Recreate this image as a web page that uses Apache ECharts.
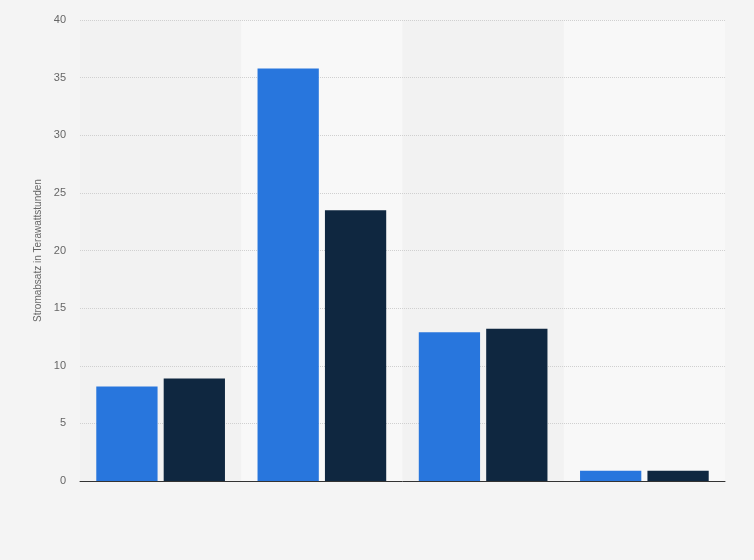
<!DOCTYPE html>
<html>
<head>
<meta charset="utf-8">
<script src="https://cdn.jsdelivr.net/npm/echarts@6/dist/echarts.min.js"></script>
<style>
html,body{margin:0;padding:0;background:#f4f4f4;}
#c{width:754px;height:560px;}
</style>
</head>
<body>
<div id="c"></div>
<script>
var categories = ['A', 'B', 'C', 'D'];
var series1 = [8.2, 35.8, 12.9, 0.9];
var series2 = [8.9, 23.5, 13.2, 0.9];
var yTicks = { min: 0, max: 40, interval: 5 };

var chart = echarts.init(document.getElementById('c'), null, { renderer: 'canvas' });
chart.setOption({
  backgroundColor: '#f4f4f4',
  animation: false,
  grid: { left: 80, right: 29, top: 20, bottom: 79 },
  xAxis: [{
    type: 'category',
    z: 0,
    data: categories,
    axisLine: { show: false },
    axisTick: { show: false },
    axisLabel: { show: false },
    splitArea: { show: true, areaStyle: { color: ['#f2f2f2', '#f8f8f8'] } }
  }, {
    type: 'category',
    z: 5,
    position: 'bottom',
    data: categories,
    axisLine: { lineStyle: { color: '#333', width: 1 } },
    axisTick: { show: false },
    axisLabel: { show: false },
    splitArea: { show: false },
    splitLine: { show: false }
  }],
  yAxis: {
    type: 'value',
    z: 1,
    min: yTicks.min, max: yTicks.max, interval: yTicks.interval,
    name: 'Stromabsatz in Terawattstunden',
    nameLocation: 'middle',
    nameGap: 34,
    nameTextStyle: { color: '#666', fontSize: 10, fontFamily: 'Arial, Liberation Sans, sans-serif' },
    axisLine: { show: false },
    axisTick: { show: false },
    axisLabel: { color: '#666', fontSize: 11, margin: 14, fontFamily: 'Arial, Liberation Sans, sans-serif' },
    splitLine: { showMinLine: false, lineStyle: { color: '#d0d0d0', type: 'dotted', width: 1 } }
  },
  series: [
    {
      type: 'bar', z: 2, xAxisIndex: 0, data: series1, barWidth: '38%', barGap: '10%',
      itemStyle: { color: '#2876dd' }
    },
    {
      type: 'bar', z: 2, xAxisIndex: 0, data: series2, barWidth: '38%', barGap: '10%',
      itemStyle: { color: '#0f2740' }
    }
  ]
});
</script>
</body>
</html>
